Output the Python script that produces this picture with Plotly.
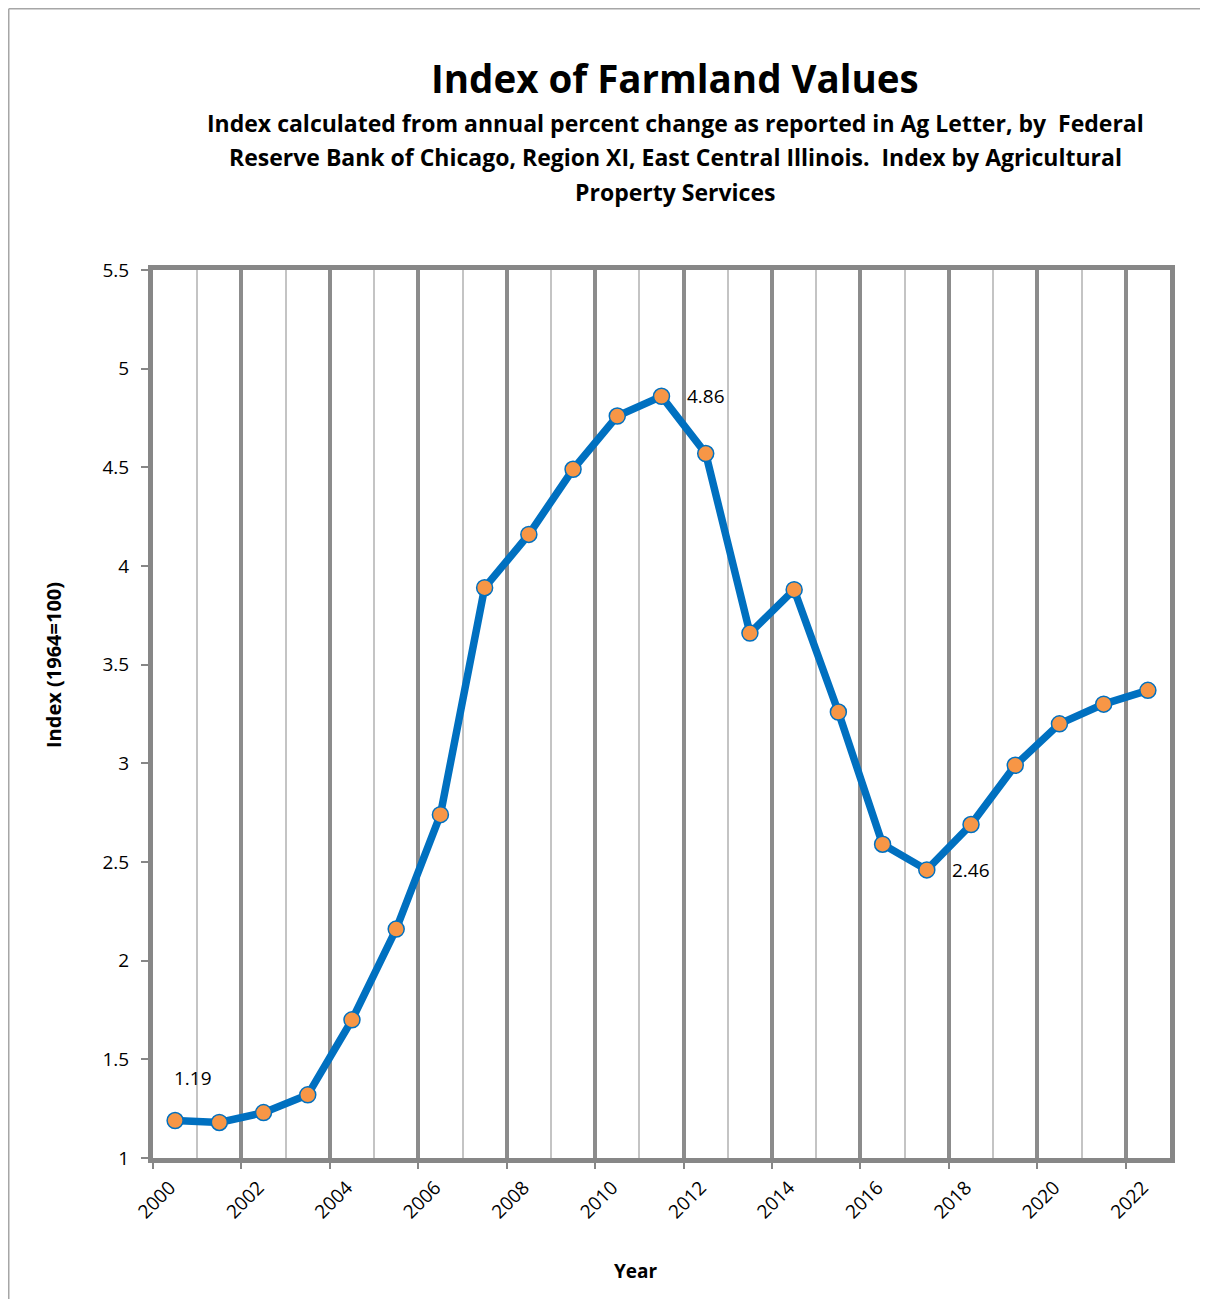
import plotly.graph_objects as go

years = list(range(2000, 2023))
index_values = [1.19, 1.18, 1.23, 1.32, 1.70, 2.16, 2.74, 3.89, 4.16, 4.49, 4.76, 4.86,
                4.57, 3.66, 3.88, 3.26, 2.59, 2.46, 2.69, 2.99, 3.20, 3.30, 3.37]
labelled_years = [2000, 2011, 2017]

title_text = "Index of Farmland Values"
subtitle_lines = [
    "Index calculated from annual percent change as reported in Ag Letter, by  Federal",
    "Reserve Bank of Chicago, Region XI, East Central Illinois.  Index by Agricultural",
    "Property Services",
]
y_title = "Index (1964=100)"
x_title = "Year"

FONT = "'Open Sans', Lato, sans-serif"
OFF = 8  # default body margin of the page
W, H = 1208 - OFF, 1299 - OFF
L, R, T, B = 153 - OFF, 1208 - 1170, 270 - OFF, 1299 - 1158
PW, PH = W - L - R, H - T - B


def px_x(p):
    return (p - OFF - L) / PW


def px_y(p):
    return (H - B - (p - OFF)) / PH


x_pos = [y + 0.5 for y in years]

fig = go.Figure()
fig.add_trace(go.Scatter(
    x=x_pos, y=index_values, mode="lines+markers",
    line=dict(color="#0070C0", width=7.5),
    marker=dict(size=16, color="#F79646", line=dict(color="#0070C0", width=1.5)),
    hoverinfo="skip", showlegend=False,
))

annotations = []
offsets = {2000: (18, 43), 2011: (44, 0), 2017: (44, 0)}
for yr in labelled_years:
    i = years.index(yr)
    dx, dy = offsets[yr]
    annotations.append(dict(
        x=x_pos[i], y=index_values[i], xref="x", yref="y",
        text=f"{index_values[i]:.2f}", showarrow=False,
        xshift=dx, yshift=dy, font=dict(family=FONT, size=19, color="#000"),
    ))

annotations.append(dict(
    x=px_x(675), y=px_y(78), xref="paper", yref="paper", text=f"<b>{title_text}</b>",
    showarrow=False, xanchor="center", yanchor="middle",
    font=dict(family=FONT, size=38.5, color="#000"),
))
for k, line in enumerate(subtitle_lines):
    annotations.append(dict(
        x=px_x(675), y=px_y(123 + 34.5 * k), xref="paper", yref="paper", text=f"<b>{line}</b>",
        showarrow=False, xanchor="center", yanchor="middle",
        font=dict(family=FONT, size=23, color="#000"),
    ))
annotations.append(dict(
    x=px_x(53), y=px_y(665), xref="paper", yref="paper", text=f"<b>{y_title}</b>",
    showarrow=False, textangle=-90, xanchor="center", yanchor="middle",
    font=dict(family=FONT, size=20, color="#000"),
))
annotations.append(dict(
    x=px_x(636), y=px_y(1271), xref="paper", yref="paper", text=f"<b>{x_title}</b>",
    showarrow=False, xanchor="center", yanchor="middle",
    font=dict(family=FONT, size=19, color="#000"),
))

shapes = [
    dict(type="line", xref="paper", yref="paper", x0=px_x(8.75), x1=px_x(8.75),
         y0=px_y(8.75), y1=px_y(1330), line=dict(color="#A6A6A6", width=1.5)),
    dict(type="line", xref="paper", yref="paper", x0=px_x(8.75), x1=px_x(1240),
         y0=px_y(8.75), y1=px_y(8.75), line=dict(color="#A6A6A6", width=1.5)),
]

fig.update_layout(
    width=W, height=H,
    margin=dict(l=L, r=R, t=T, b=B),
    paper_bgcolor="white", plot_bgcolor="white",
    font=dict(family=FONT, size=19, color="#000"),
    annotations=annotations, shapes=shapes,
)
fig.update_xaxes(
    range=[2000, 2023], tick0=2000, dtick=2,
    showgrid=True, gridcolor="#8C8C8C", gridwidth=4,
    minor=dict(dtick=1, tick0=2000, showgrid=True, gridcolor="#C4C4C4", gridwidth=1.5),
    showline=True, linecolor="#878787", linewidth=5, mirror=True,
    ticks="outside", ticklen=6, tickwidth=1.5, tickcolor="#878787",
    tickangle=-45, ticklabelshift=17,
    tickfont=dict(family=FONT, size=19, color="#000"),
    zeroline=False,
)
fig.update_yaxes(
    range=[1, 5.5], dtick=0.5, tick0=1,
    showgrid=False, zeroline=False,
    showline=True, linecolor="#878787", linewidth=5, mirror=True,
    ticks="outside", ticklen=7, tickwidth=2, tickcolor="#878787",
    ticklabelstandoff=8,
    tickfont=dict(family=FONT, size=19, color="#000"),
)

fig.write_html("out.html")
